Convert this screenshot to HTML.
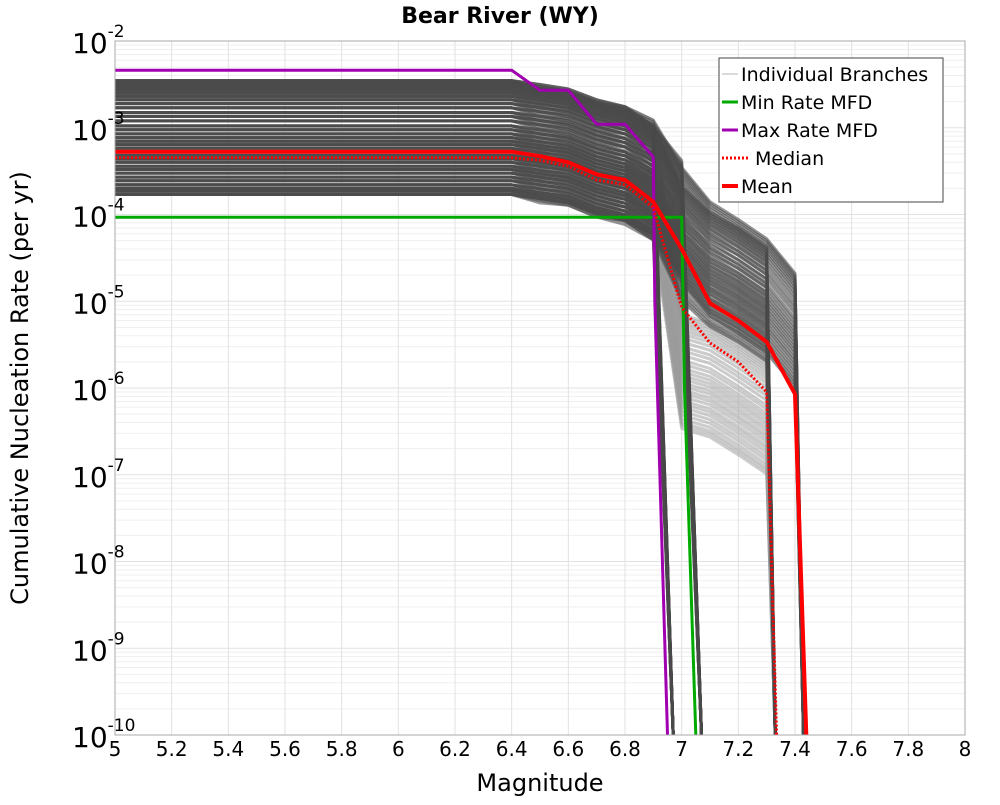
<!DOCTYPE html>
<html><head><meta charset="utf-8"><style>
body{margin:0;background:#fff}
svg text{font-family:"DejaVu Sans","Liberation Sans",sans-serif}
</style></head><body>
<svg id="chart" width="1000" height="800" viewBox="0 0 1000 800" xmlns="http://www.w3.org/2000/svg">
<rect width="1000" height="800" fill="#fff"/>
<text x="500" y="23" text-anchor="middle" font-size="22" font-weight="bold">Bear River (WY)</text>
<g id="grid"></g>
<g id="branches"></g>
<g id="series"></g>
<rect x="115" y="41" width="850" height="694" fill="none" stroke="#aaa" stroke-width="1"/>
<g id="ticks"></g>
<text x="540" y="791" text-anchor="middle" font-size="24">Magnitude</text>
<text transform="translate(28,388) rotate(-90)" text-anchor="middle" font-size="24">Cumulative Nucleation Rate (per yr)</text>
<g>
<rect x="719" y="58" width="224" height="144" fill="#fff" stroke="#444" stroke-width="1"/>
<line x1="722" y1="74" x2="738" y2="74" stroke="#ccc" stroke-width="1.5"/>
<text x="741" y="81" font-size="19">Individual Branches</text>
<line x1="722" y1="102" x2="738" y2="102" stroke="#00aa00" stroke-width="3"/>
<text x="741" y="109" font-size="19">Min Rate MFD</text>
<line x1="722" y1="130" x2="738" y2="130" stroke="#a000b0" stroke-width="3"/>
<text x="741" y="137" font-size="19">Max Rate MFD</text>
<line x1="722" y1="158" x2="750" y2="158" stroke="#f00" stroke-width="3" stroke-dasharray="2,2"/>
<text x="755" y="165" font-size="19">Median</text>
<line x1="722" y1="186" x2="738" y2="186" stroke="#f00" stroke-width="4"/>
<text x="741" y="193" font-size="19">Mean</text>
</g>
</svg>
<script>
const xTicks=[5,5.2,5.4,5.6,5.8,6,6.2,6.4,6.6,6.8,7,7.2,7.4,7.6,7.8,8];
const yExps=[-2,-3,-4,-5,-6,-7,-8,-9,-10];
const mags=[5,6.4,6.5,6.6,6.7,6.8,6.9,7.0,7.1,7.2,7.3,7.4];
const meanRates=[5.3e-4,5.3e-4,4.7e-4,4.0e-4,2.9e-4,2.5e-4,1.4e-4,4.0e-5,9.5e-6,6.0e-6,3.4e-6,8.5e-7];
const meanEnd=7.44;
const medianRates=[4.5e-4,4.5e-4,4.2e-4,3.6e-4,2.5e-4,2.2e-4,1.2e-4,8.5e-6,3.3e-6,2.0e-6,9.0e-7];
const medianEnd=7.335;
const maxMags=[5,6.4,6.5,6.6,6.7,6.8,6.9,6.905];
const maxRates=[4.6e-3,4.6e-3,2.7e-3,2.7e-3,1.1e-3,1.1e-3,4.6e-4,1e-5];
const maxEnd=6.95;
const minMags=[5,7.0,7.01];
const minRates=[9.3e-5,9.3e-5,1e-6];
const minEnd=7.05;
const branchLevels=[3.5e-3,3.3e-3,3.1e-3,2.9e-3,2.7e-3,2.5e-3,2.3e-3,2.1e-3,1.9e-3,1.7e-3,1.5e-3,1.35e-3,1.2e-3,1.05e-3,9.5e-4,8.5e-4,7.7e-4,7e-4,6.4e-4,5.8e-4,5.3e-4,4.8e-4,4.4e-4,4e-4,3.6e-4,3.3e-4,3e-4,2.7e-4,2.45e-4,2.2e-4,2e-4,1.85e-4,1.7e-4];
const shapeA=[1,1,.8,.75,.55,.5,.3]; const endA=6.97;
const shapeB=[1,1,.85,.75,.55,.45,.3,.12]; const endB=7.07;
const shapeC=[1,1,.9,.8,.6,.5,.3,.06,.03,.02,.012]; const endC=7.33;
const shapeD=[1,1,.9,.8,.6,.5,.35,.1,.04,.025,.015,.006]; const endD=7.43;
const shapeE=[1,1,.9,.8,.6,.5,.35,.002,.0016,.001,.0006]; const endE=7.33;

const X0=115,X1=965,Y0=41,Y1=735;
const xs=m=>X0+(m-5)/3*(X1-X0);
const ys=r=>Y0+(-2-Math.log10(r))/8*(Y1-Y0);
const NS="http://www.w3.org/2000/svg";
function mk(tag,parent,attrs){const e=document.createElementNS(NS,tag);for(const k in attrs)e.setAttribute(k,attrs[k]);parent.appendChild(e);return e;}
const grid=document.getElementById('grid');
for(let d=-10;d<-2;d++){for(let k=2;k<=9;k++){const l=mk('line',grid,{x1:X0,x2:X1,y1:ys(k*Math.pow(10,d)),y2:ys(k*Math.pow(10,d)),stroke:'#efefef','stroke-width':1});

}}
yExps.forEach(e=>{const l=mk('line',grid,{x1:X0,x2:X1,y1:ys(Math.pow(10,e)),y2:ys(Math.pow(10,e)),stroke:'#e2e2e2','stroke-width':1});

});
xTicks.forEach(t=>{const l=mk('line',grid,{x1:xs(t),x2:xs(t),y1:Y0,y2:Y1,stroke:'#e2e2e2','stroke-width':1});

});
function pathD(ms,rs,end){let p=[];for(let i=0;i<rs.length;i++)p.push([xs(ms[i]),ys(rs[i])]);p.push([xs(end),ys(1e-10)]);return 'M'+p.map(q=>q[0].toFixed(1)+','+q[1].toFixed(1)).join('L');}
const br=document.getElementById('branches');
const shapes=[[shapeE,endE,'#999',0.5],[shapeA,endA,'#4a4a4a',0.6],[shapeB,endB,'#4a4a4a',0.6],[shapeC,endC,'#4a4a4a',0.6],[shapeD,endD,'#4a4a4a',0.6]];
shapes.forEach(s=>{branchLevels.forEach(lv=>{const rs=s[0].map(v=>v*lv);
const p=mk('path',br,{d:pathD(mags,rs,s[1]),fill:'none',stroke:s[2],'stroke-width':3,'stroke-opacity':s[3],'stroke-linejoin':'round'});

});});
const se=document.getElementById('series');
let p;
p=mk('path',se,{d:pathD(minMags,minRates,minEnd),fill:'none',stroke:'#00aa00','stroke-width':3});


p=mk('path',se,{d:pathD(maxMags,maxRates,maxEnd),fill:'none',stroke:'#a000b0','stroke-width':3});


p=mk('path',se,{d:pathD(mags,medianRates,medianEnd),fill:'none',stroke:'#f00','stroke-width':3,'stroke-dasharray':'2,2'});


p=mk('path',se,{d:pathD(mags,meanRates,meanEnd),fill:'none',stroke:'#f00','stroke-width':4});


const tk=document.getElementById('ticks');
xTicks.forEach(t=>{const e=mk('text',tk,{x:xs(t),y:756,'text-anchor':'middle','font-size':20});e.textContent=String(t);

});
yExps.forEach(ex=>{const y=ys(Math.pow(10,ex));const e=mk('text',tk,{x:72,y:y+12,'font-size':28});e.textContent='10';


const s=mk('tspan',e,{dy:-16,'font-size':17});s.textContent=String(ex);});
</script>
</body></html>
